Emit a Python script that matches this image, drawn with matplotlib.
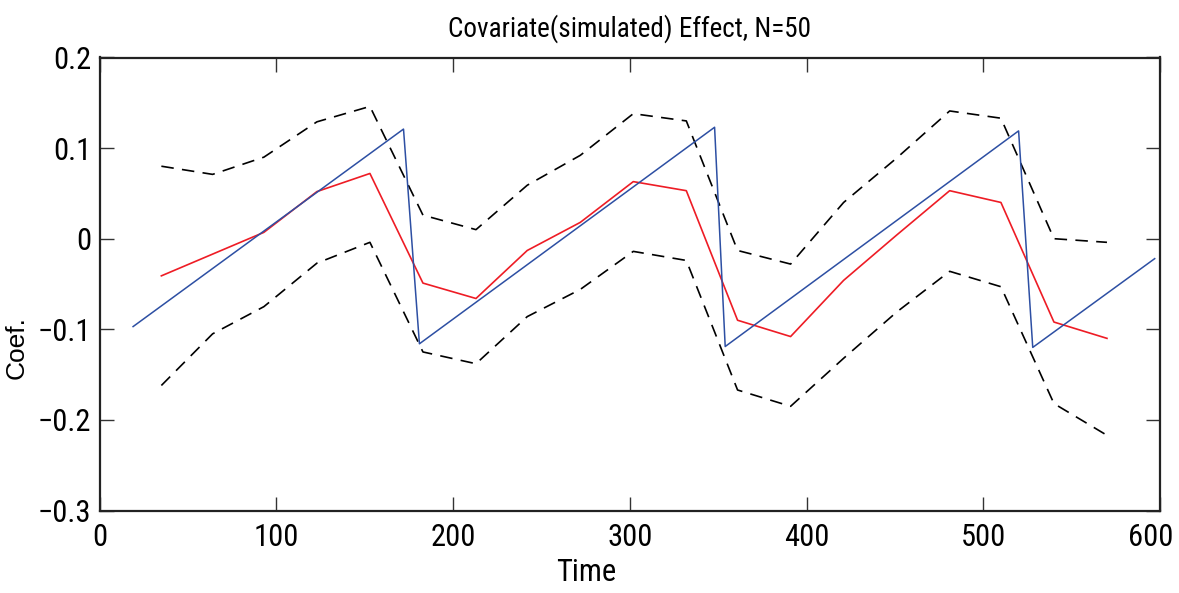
import matplotlib.pyplot as plt
import numpy as np
from matplotlib import font_manager
from matplotlib.transforms import ScaledTranslation

# pick a narrow helvetica-like font
names = set(f.name for f in font_manager.fontManager.ttflist)
narrow = 'Liberation Sans'
for cand in ['Nimbus Sans Narrow', 'Liberation Sans Narrow', 'Arial Narrow', 'Roboto Condensed',
             'PT Sans Narrow', 'Archivo Narrow']:
    if cand in names:
        narrow = cand
        break

# true coefficient (sawtooth)
true_t = [19, 172, 181, 348, 354, 520, 528, 597]
true_coef = [-0.097, 0.121, -0.116, 0.123, -0.119, 0.119, -0.120, -0.022]

# estimated coefficient and bounds
est_t = [35, 64, 93, 123, 153, 183, 213, 242, 272, 302, 332, 361, 391, 421, 451, 481, 510, 540, 570]
est_coef = [-0.041, -0.017, 0.007, 0.052, 0.072, -0.049, -0.066, -0.013, 0.018, 0.063, 0.053,
            -0.090, -0.108, -0.046, 0.004, 0.053, 0.040, -0.092, -0.110]
upper = [0.080, 0.071, 0.090, 0.129, 0.146, 0.026, 0.010, 0.059, 0.092, 0.138, 0.130,
         -0.013, -0.028, 0.040, 0.089, 0.141, 0.133, 0.000, -0.004]
lower = [-0.162, -0.105, -0.075, -0.027, -0.004, -0.125, -0.138, -0.086, -0.056, -0.014, -0.024,
         -0.167, -0.185, -0.132, -0.081, -0.036, -0.053, -0.182, -0.217]

fig = plt.figure(figsize=(11.79, 5.93), dpi=100)
ax = fig.add_axes([99.5 / 1179, 1 - 510.5 / 593, (1160 - 99.5) / 1179, (510.5 - 57.5) / 593])

ax.plot(est_t, upper, color='black', lw=1.2, dashes=(7.5, 5))
ax.plot(est_t, lower, color='black', lw=1.2, dashes=(7.5, 5))
ax.plot(est_t, est_coef, color='#ee1c25', lw=1.2)
ax.plot(true_t, true_coef, color='#2d4fa3', lw=1.1)

ax.set_xlim(0, 600)
ax.set_ylim(-0.3, 0.2)
ax.set_xticks(np.arange(0, 601, 100))
ax.set_yticks([-0.3, -0.2, -0.1, 0, 0.1, 0.2])
ax.set_yticklabels(['\u22120.3', '\u22120.2', '\u22120.1', '0', '0.1', '0.2'])

ax.tick_params(direction='in', top=True, right=True, length=10, width=1, color='#333333',
               labelsize=22)
ax.tick_params(axis='x', pad=9)
ax.tick_params(axis='y', pad=6)
for lab in ax.get_xticklabels() + ax.get_yticklabels():
    lab.set_family(narrow)
# last x label sits a bit inside, like the original
last = ax.get_xticklabels()[-1]
last.set_transform(last.get_transform() + ScaledTranslation(-9 / 100, 0, fig.dpi_scale_trans))

for sp in ax.spines.values():
    sp.set_linewidth(1.6)
    sp.set_color('#222222')

ax.set_title('Covariate(simulated) Effect, N=50', family=narrow, fontsize=19.5, pad=15)
ax.set_xlabel('Time', family=narrow, fontsize=22, va='top')
ax.xaxis.set_label_coords(0.459, -0.105)
ax.set_ylabel('Coef.', family='Liberation Sans', fontsize=19)
ax.yaxis.set_label_coords(-0.067, 0.36)

fig.savefig('out.png', dpi=100)
